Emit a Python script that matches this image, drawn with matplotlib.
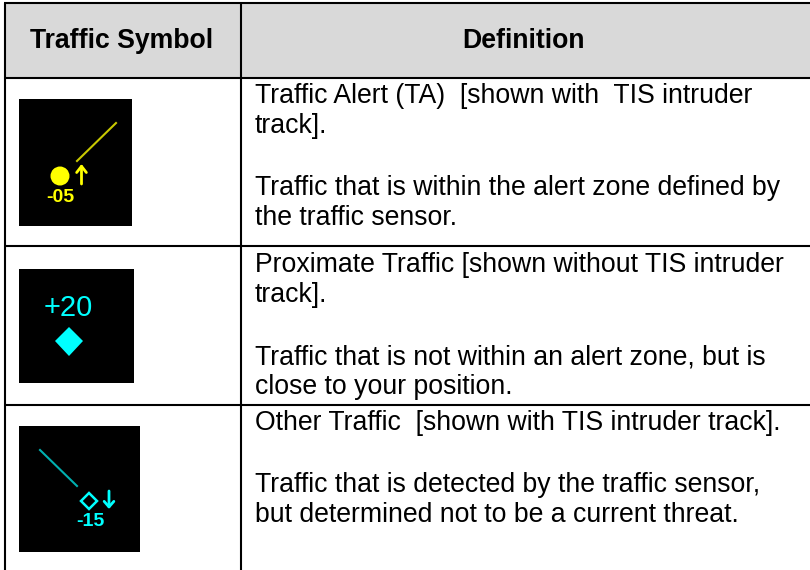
import matplotlib
matplotlib.use('Agg')
import matplotlib.pyplot as plt
from matplotlib.patches import Rectangle, Circle, Polygon

W, H = 810, 570

# Текст таблицы
headers = ['Traffic Symbol', 'Definition']
definitions = [
    'Traffic Alert (TA)  [shown with  TIS intruder', 'track].',
    'Traffic that is within the alert zone defined by', 'the traffic sensor.',
    'Proximate Traffic [shown without TIS intruder', 'track].',
    'Traffic that is not within an alert zone, but is', 'close to your position.',
    'Other Traffic  [shown with TIS intruder track].',
    'Traffic that is detected by the traffic sensor,', 'but determined not to be a current threat.',
]
baselines = [103, 133, 195, 225, 272, 302, 364, 394, 430, 492, 522]
labels = ['-05', '+20', '-15']
yellow = '#ffff00'
cyan = '#00ffff'

plt.rcParams['font.family'] = ['Liberation Sans', 'DejaVu Sans']

fig = plt.figure(figsize=(W / 100, H / 100), dpi=100)
ax = fig.add_axes([0, 0, 1, 1])
ax.set_xlim(0, W)
ax.set_ylim(H, 0)
ax.axis('off')

# Шапка таблицы
ax.add_patch(Rectangle((5, 3), W - 5, 75, fc='#d9d9d9', ec='none'))

# Линии таблицы
for y in [3, 78, 246, 405]:
    ax.plot([4, W], [y, y], color='black', lw=1.5, solid_capstyle='butt')
for x in [5, 240.5]:
    ax.plot([x, x], [3, H], color='black', lw=1.5, solid_capstyle='butt')

ax.text(122, 41, headers[0], fontsize=19.2, fontweight='bold', ha='center', va='center')
ax.text(524, 41, headers[1], fontsize=19.2, fontweight='bold', ha='center', va='center')

# Текст определений
for line, y in zip(definitions, baselines):
    ax.text(255, y, line, fontsize=19.2, ha='left', va='baseline')

# Символ 1 - желтый круг
ax.add_patch(Rectangle((19, 99), 113, 127, fc='black', ec='none'))
ax.plot([77, 116], [161, 123], color='#c8c800', lw=1.5)
ax.add_patch(Circle((60, 176), 9.5, fc=yellow, ec='none'))
ax.annotate('', xy=(81.5, 164), xytext=(81.5, 184),
            arrowprops=dict(arrowstyle='->,head_width=0.35,head_length=0.45', color=yellow, lw=2, shrinkA=0, shrinkB=0))
ax.text(60, 198, labels[0], color=yellow, fontsize=14, fontweight='bold', ha='center', va='center')

# Символ 2 - голубой ромб
ax.add_patch(Rectangle((19, 269), 115, 114, fc='black', ec='none'))
ax.text(68, 308.5, labels[1], color=cyan, fontsize=21, ha='center', va='center')
ax.add_patch(Polygon([(69, 327), (83, 341), (69, 356), (55, 341)], fc=cyan, ec='none'))

# Символ 3 - контурный ромб
ax.add_patch(Rectangle((19, 426), 121, 126, fc='black', ec='none'))
ax.plot([40, 77], [450, 486], color='#00b0b0', lw=1.5)
ax.add_patch(Polygon([(89, 493), (97, 501), (89, 509), (81, 501)], fc='none', ec=cyan, lw=1.8))
ax.annotate('', xy=(109, 509), xytext=(109, 491),
            arrowprops=dict(arrowstyle='->,head_width=0.35,head_length=0.4', color=cyan, lw=2, shrinkA=0, shrinkB=0))
ax.text(90, 522, labels[2], color=cyan, fontsize=14, fontweight='bold', ha='center', va='center')

fig.savefig('out.png', dpi=100)
